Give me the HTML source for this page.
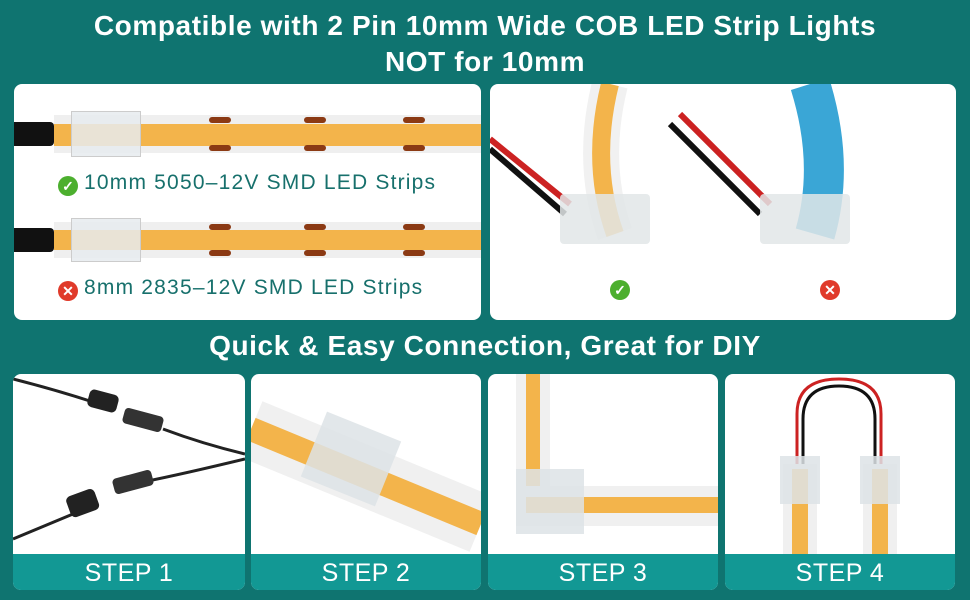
<!DOCTYPE html>
<html><head><style>
*{margin:0;padding:0;box-sizing:border-box}
body{width:970px;height:600px;background:#0f7470;font-family:"Liberation Sans",sans-serif;position:relative;overflow:hidden}
.t{position:absolute;left:0;width:970px;text-align:center;color:#fff;font-weight:bold;letter-spacing:0.6px}
.p{position:absolute;background:#fff;border-radius:8px;overflow:hidden}
.bar{position:absolute;left:0;right:0;bottom:0;height:36px;background:#129894;color:#fff;font-size:25px;text-align:center;line-height:38px;letter-spacing:0.5px}
.strip{position:absolute;left:40px;width:441px;height:38px;background:#efefef}
.band{position:absolute;left:0;right:0;top:9px;height:22px;background:#f3b44b}
.pad{position:absolute;width:22px;height:6px;border-radius:3px;background:#8b3a14}
.lab{position:absolute;left:0;width:467px;color:#17706c;font-size:21px;letter-spacing:1.2px}
.ic{display:inline-block;width:20px;height:20px;border-radius:50%;color:#fff;font-size:14px;text-align:center;line-height:20px;vertical-align:-2px;margin-right:6px;font-weight:bold;letter-spacing:0}
</style></head><body>
<div class="t" style="top:10px;font-size:28px">Compatible with 2 Pin 10mm Wide COB LED Strip Lights</div>
<div class="t" style="top:46px;font-size:28px">NOT for 10mm</div>

<div class="p" style="left:14px;top:84px;width:467px;height:236px">
 <div style="position:absolute;left:0;top:38px;width:40px;height:24px;background:#111;border-radius:0 4px 4px 0"></div>
 <div class="strip" style="top:31px"><div class="band"></div>
  <div class="pad" style="left:155px;top:2px"></div><div class="pad" style="left:250px;top:2px"></div><div class="pad" style="left:349px;top:2px"></div>
  <div class="pad" style="left:155px;top:30px"></div><div class="pad" style="left:250px;top:30px"></div><div class="pad" style="left:349px;top:30px"></div></div>
 <div style="position:absolute;left:57px;top:27px;width:70px;height:46px;background:rgba(230,235,238,.85);border:1px solid #ccc"></div>
 <div class="lab" style="top:87px;padding-left:44px"><span class="ic" style="background:#4caf2e">✓</span>10mm 5050–12V SMD LED Strips</div>
 <div style="position:absolute;left:0;top:144px;width:40px;height:24px;background:#111;border-radius:0 4px 4px 0"></div>
 <div class="strip" style="top:138px;height:36px"><div class="band" style="top:8px;height:20px"></div>
  <div class="pad" style="left:155px;top:2px"></div><div class="pad" style="left:250px;top:2px"></div><div class="pad" style="left:349px;top:2px"></div>
  <div class="pad" style="left:155px;top:28px"></div><div class="pad" style="left:250px;top:28px"></div><div class="pad" style="left:349px;top:28px"></div></div>
 <div style="position:absolute;left:57px;top:134px;width:70px;height:44px;background:rgba(230,235,238,.85);border:1px solid #ccc"></div>
 <div class="lab" style="top:192px;padding-left:44px"><span class="ic" style="background:#e03a2a">✕</span>8mm 2835–12V SMD LED Strips</div>
</div>

<div class="p" style="left:490px;top:84px;width:466px;height:236px">
 <svg width="466" height="236" style="position:absolute;left:0;top:0">
  <path d="M0 55 L80 120" stroke="#c22" stroke-width="6" fill="none"/><path d="M0 65 L75 130" stroke="#111" stroke-width="6" fill="none"/>
  <path d="M190 30 L280 120" stroke="#c22" stroke-width="6" fill="none"/><path d="M180 40 L270 130" stroke="#111" stroke-width="6" fill="none"/>
  <path d="M120 0 Q100 80 125 150" stroke="#f1f1f1" stroke-width="36" fill="none"/>
  <path d="M120 0 Q100 80 125 150" stroke="#f3b44b" stroke-width="18" fill="none"/>
  <path d="M320 0 Q345 80 325 150" stroke="#3aa6d6" stroke-width="40" fill="none"/>
  <rect x="70" y="110" width="90" height="50" rx="4" fill="#e2e6e8" opacity=".85"/>
  <rect x="270" y="110" width="90" height="50" rx="4" fill="#e2e6e8" opacity=".85"/>
 </svg>
 <div style="position:absolute;left:120px;top:196px"><span class="ic" style="background:#4caf2e">✓</span></div>
 <div style="position:absolute;left:330px;top:196px"><span class="ic" style="background:#e03a2a">✕</span></div>
</div>

<div class="t" style="top:330px;font-size:28px">Quick &amp; Easy Connection, Great for DIY</div>

<div class="p" style="left:13px;top:374px;width:232px;height:216px">
 <svg width="232" height="180" style="position:absolute;left:0;top:0">
  <path d="M0 5 Q40 15 80 28" stroke="#222" stroke-width="3" fill="none"/><rect x="75" y="18" width="30" height="18" rx="5" fill="#222" transform="rotate(15 90 27)"/>
  <rect x="110" y="38" width="40" height="16" rx="4" fill="#333" transform="rotate(15 130 46)"/>
  <path d="M150 55 Q190 70 232 80 M232 85 Q170 100 130 108" stroke="#222" stroke-width="3" fill="none"/>
  <rect x="100" y="100" width="40" height="16" rx="4" fill="#333" transform="rotate(-15 120 108)"/>
  <path d="M60 140 L0 165" stroke="#222" stroke-width="3"/><rect x="55" y="118" width="30" height="22" rx="5" fill="#222" transform="rotate(-20 70 130)"/>
 </svg>
 <div class="bar">STEP 1</div></div>
<div class="p" style="left:251px;top:374px;width:230px;height:216px">
 <svg width="230" height="180" style="position:absolute;left:0;top:0">
  <path d="M0 55 L230 150" stroke="#f0f0f0" stroke-width="60"/><path d="M0 55 L230 150" stroke="#f3b44b" stroke-width="24"/>
  <rect x="60" y="50" width="80" height="70" fill="#dde3e6" opacity=".85" transform="rotate(22 100 85)"/>
 </svg>
 <div class="bar">STEP 2</div></div>
<div class="p" style="left:488px;top:374px;width:230px;height:216px">
 <svg width="230" height="180" style="position:absolute;left:0;top:0">
  <rect x="28" y="0" width="34" height="150" fill="#f0f0f0"/><rect x="38" y="0" width="14" height="150" fill="#f3b44b"/>
  <rect x="28" y="112" width="202" height="40" fill="#f0f0f0"/><rect x="38" y="123" width="192" height="16" fill="#f3b44b"/>
  <rect x="28" y="95" width="68" height="65" fill="#dde3e6" opacity=".85"/>
 </svg>
 <div class="bar">STEP 3</div></div>
<div class="p" style="left:725px;top:374px;width:230px;height:216px">
 <svg width="230" height="180" style="position:absolute;left:0;top:0">
  <path d="M72 90 L72 40 Q72 5 114 5 Q156 5 156 40 L156 90" stroke="#c22" stroke-width="3" fill="none"/>
  <path d="M78 90 L78 45 Q78 12 114 12 Q150 12 150 45 L150 90" stroke="#111" stroke-width="3" fill="none"/>
  <rect x="58" y="90" width="34" height="90" fill="#f0f0f0"/><rect x="67" y="95" width="16" height="85" fill="#f3b44b"/>
  <rect x="138" y="90" width="34" height="90" fill="#f0f0f0"/><rect x="147" y="95" width="16" height="85" fill="#f3b44b"/>
  <rect x="55" y="82" width="40" height="48" fill="#dde3e6" opacity=".85"/><rect x="135" y="82" width="40" height="48" fill="#dde3e6" opacity=".85"/>
 </svg>
 <div class="bar">STEP 4</div></div>
</body></html>
